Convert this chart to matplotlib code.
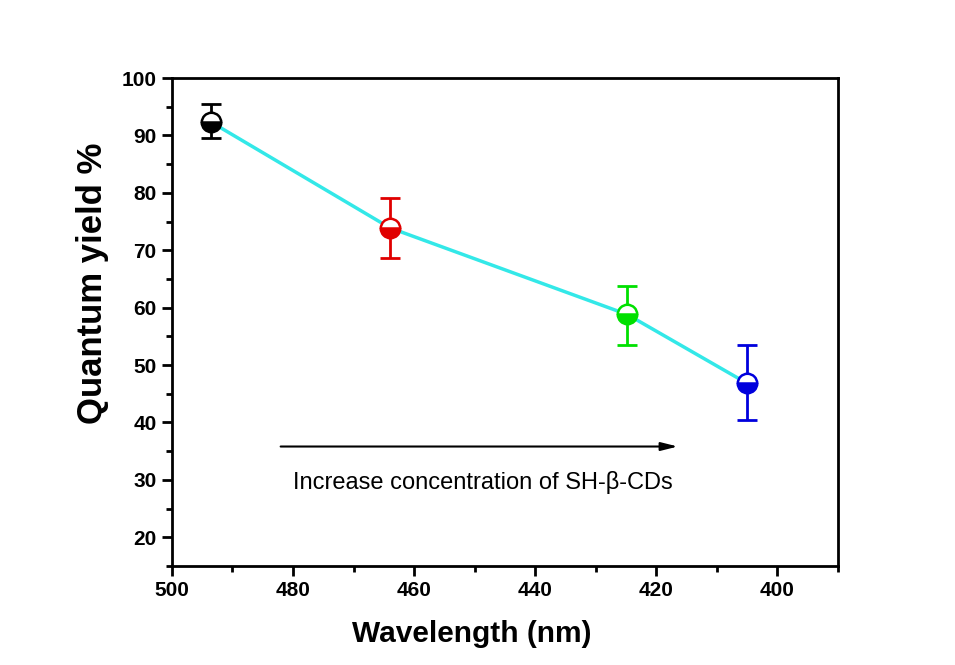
import matplotlib
matplotlib.use("Agg")
import matplotlib.pyplot as plt

plt.rcParams['font.family'] = ['Liberation Sans', 'DejaVu Sans']

wavelength = [493.5, 464, 424.8, 405]
qy = [92.3, 73.9, 58.8, 46.8]
err_up = [3.1, 5.2, 4.9, 6.6]
err_dn = [2.8, 5.3, 5.3, 6.4]
colors = ['black', '#e00000', '#00e000', '#0000dd']
line_color = '#33e8e8'

xticks = [500, 480, 460, 440, 420, 400]
yticks = [20, 30, 40, 50, 60, 70, 80, 90, 100]

fig = plt.figure(figsize=(9.55, 6.65), dpi=100)
ax = fig.add_axes([0.180, 0.149, 0.6975, 0.7337])

ax.plot(wavelength, qy, color=line_color, lw=2.5, zorder=2)
for x, y, eu, ed, c in zip(wavelength, qy, err_up, err_dn, colors):
    ax.errorbar([x], [y], yerr=[[ed], [eu]], fmt='none', ecolor=c,
                elinewidth=2, capsize=7, capthick=2, zorder=3)
    ax.plot([x], [y], marker='o', ms=14, mew=1.8, mec=c, mfc=c,
            fillstyle='bottom', markerfacecoloralt='white', zorder=4, ls='none')

ax.set_xlim(500, 390)
ax.set_ylim(15, 100)
ax.set_xticks(xticks)
ax.set_yticks(yticks)
ax.set_xticks([490, 470, 450, 430, 410, 390], minor=True)
ax.set_yticks([15, 25, 35, 45, 55, 65, 75, 85, 95], minor=True)
ax.tick_params(which='major', direction='out', length=7, width=2,
               labelsize=15, pad=4)
ax.tick_params(which='minor', direction='out', length=4, width=2)
for lab in ax.get_xticklabels() + ax.get_yticklabels():
    lab.set_fontweight('bold')
for sp in ax.spines.values():
    sp.set_linewidth(2)

ax.set_xlabel('Wavelength (nm)', fontsize=21.5, fontweight='bold')
ax.xaxis.set_label_coords(0.45, -0.11)
ax.set_ylabel('Quantum yield %', fontsize=25, fontweight='bold')
ax.yaxis.set_label_coords(-0.095, 0.58)

ax.annotate('', xy=(416, 35.8), xytext=(482.5, 35.8),
            arrowprops=dict(arrowstyle='-|>,head_length=1.0,head_width=0.25',
                            color='black', lw=1.5))
ax.text(448.7, 29.5, 'Increase concentration of SH-β-CDs', fontsize=17,
        ha='center', va='center')

fig.savefig('out.png', dpi=100)
